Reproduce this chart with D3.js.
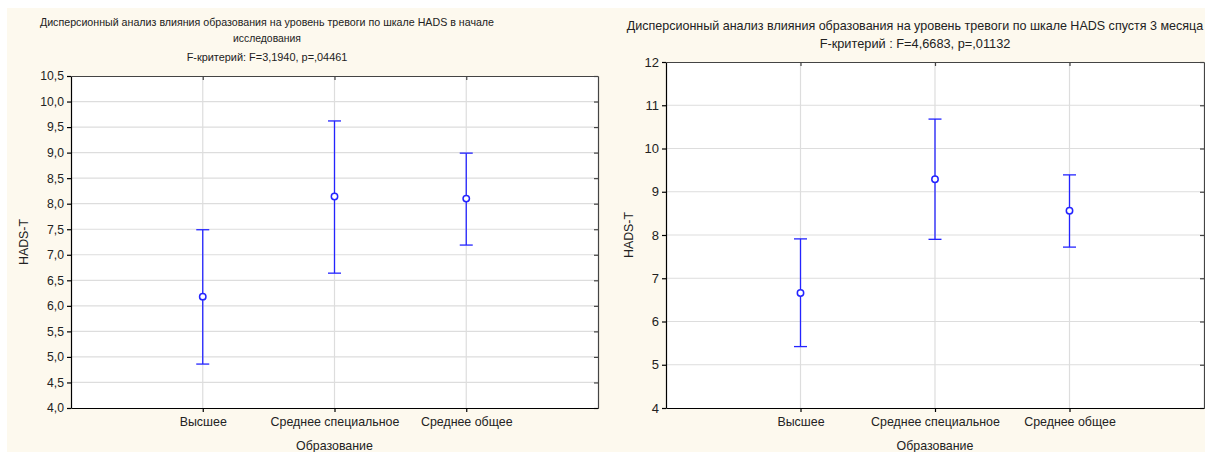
<!DOCTYPE html>
<html>
<head>
<meta charset="utf-8">
<script src="https://cdn.jsdelivr.net/npm/d3@7"></script>
<style>
  html, body { margin: 0; padding: 0; background: #ffffff; }
  svg { display: block; font-family: "Liberation Sans", Arial, sans-serif; }
</style>
</head>
<body>
<svg id="chart" width="1205" height="452"></svg>
<script>
// Education groups on the x axis
const categories = ["Высшее", "Среднее специальное", "Среднее общее"];

// HADS-T anxiety at baseline: group means and 95% CI bounds
const meanStart  = [6.18, 8.14, 8.10];
const lowerStart = [4.86, 6.64, 7.19];
const upperStart = [7.49, 9.62, 8.99];

// HADS-T anxiety after 3 months: group means and 95% CI bounds
const meanAfter  = [6.66, 9.29, 8.56];
const lowerAfter = [5.42, 7.90, 7.72];
const upperAfter = [7.91, 10.68, 9.39];

// Y tick values
const ticksStart = [4.0, 4.5, 5.0, 5.5, 6.0, 6.5, 7.0, 7.5, 8.0, 8.5, 9.0, 9.5, 10.0, 10.5];
const ticksAfter = [4, 5, 6, 7, 8, 9, 10, 11, 12];

// Titles and axis captions
const titleStart = [
  "Дисперсионный анализ влияния образования на уровень тревоги по шкале HADS в начале",
  "исследования",
  "F-критерий: F=3,1940, p=,04461"
];
const titleAfter = [
  "Дисперсионный анализ влияния образования на уровень тревоги по шкале HADS спустя 3 месяца",
  "F-критерий : F=4,6683, p=,01132"
];
const xAxisTitle = "Образование";
const yAxisTitle = "HADS-T";

const svg = d3.select("#chart");

// cream page background behind both panels
svg.append("rect")
  .attr("x", 7).attr("y", 8)
  .attr("width", 1198).attr("height", 444)
  .attr("fill", "#fdf9ee");

const BLUE = "#2424ff";
const GRID = "#dddddd";
const LABEL_SIZE = 12.4;

function drawPanel(cfg) {
  const { left, right, top, bottom } = cfg.plot;
  const g = svg.append("g");

  const x = d3.scalePoint().domain(categories).range([left, right]).padding(1);
  const y = d3.scaleLinear().domain(cfg.yDomain).range([bottom, top]);

  // plot area
  g.append("rect")
    .attr("x", left).attr("y", top)
    .attr("width", right - left).attr("height", bottom - top)
    .attr("fill", "#ffffff");

  // grid lines
  g.append("g").selectAll("line.h")
    .data(cfg.ticks.filter(t => t > cfg.yDomain[0] && t < cfg.yDomain[1]))
    .join("line")
    .attr("x1", left).attr("x2", right)
    .attr("y1", d => y(d)).attr("y2", d => y(d))
    .attr("stroke", GRID).attr("stroke-width", 1.2);
  g.append("g").selectAll("line.v")
    .data(categories)
    .join("line")
    .attr("x1", d => x(d)).attr("x2", d => x(d))
    .attr("y1", top).attr("y2", bottom)
    .attr("stroke", GRID).attr("stroke-width", 1.2);

  // frame: top and right edges with inward ticks
  const axTop = g.append("g").attr("transform", `translate(0,${top})`)
    .call(d3.axisTop(x).tickSize(-4).tickFormat("").tickSizeOuter(0));
  const axRight = g.append("g").attr("transform", `translate(${right},0)`)
    .call(d3.axisRight(y).tickValues(cfg.ticks).tickSize(-4).tickFormat("").tickSizeOuter(0));
  [axTop, axRight].forEach(a => {
    a.selectAll("path, line").attr("stroke", "#444").attr("stroke-width", 1.2);
  });

  // left axis
  const axLeft = g.append("g").attr("transform", `translate(${left},0)`)
    .call(d3.axisLeft(y).tickValues(cfg.ticks).tickSize(4).tickPadding(3)
      .tickSizeOuter(0).tickFormat(cfg.fmt));
  axLeft.selectAll("path, line").attr("stroke", "#000").attr("stroke-width", 1.2);
  axLeft.selectAll("text")
    .attr("font-size", cfg.yTickSize).attr("fill", "#222")
    .attr("font-family", "Liberation Sans, Arial, sans-serif");

  // bottom axis
  const axBottom = g.append("g").attr("transform", `translate(0,${bottom})`)
    .call(d3.axisBottom(x).tickSize(4).tickPadding(5).tickSizeOuter(0));
  axBottom.selectAll("path, line").attr("stroke", "#000").attr("stroke-width", 1.2);
  axBottom.selectAll("text")
    .attr("font-size", LABEL_SIZE).attr("fill", "#222")
    .attr("font-family", "Liberation Sans, Arial, sans-serif");

  // error bars
  const bars = g.append("g").selectAll("g")
    .data(categories.map((c, i) => ({ c, m: cfg.mean[i], lo: cfg.lower[i], hi: cfg.upper[i] })))
    .join("g");
  bars.append("line")
    .attr("x1", d => x(d.c)).attr("x2", d => x(d.c))
    .attr("y1", d => y(d.lo)).attr("y2", d => y(d.hi))
    .attr("stroke", BLUE).attr("stroke-width", 1.3);
  bars.append("line")
    .attr("x1", d => x(d.c) - 6.5).attr("x2", d => x(d.c) + 6.5)
    .attr("y1", d => y(d.hi)).attr("y2", d => y(d.hi))
    .attr("stroke", BLUE).attr("stroke-width", 1.3);
  bars.append("line")
    .attr("x1", d => x(d.c) - 6.5).attr("x2", d => x(d.c) + 6.5)
    .attr("y1", d => y(d.lo)).attr("y2", d => y(d.lo))
    .attr("stroke", BLUE).attr("stroke-width", 1.3);
  bars.append("circle")
    .attr("cx", d => x(d.c)).attr("cy", d => y(d.m))
    .attr("r", 3.2)
    .attr("fill", "#ffffff").attr("stroke", BLUE).attr("stroke-width", 1.5);

  // title lines, each fitted to its measured width
  cfg.title.forEach((t, i) => {
    const el = g.append("text")
      .attr("x", cfg.titleX).attr("y", cfg.titleY[i])
      .attr("text-anchor", "middle")
      .attr("font-size", 12)
      .attr("fill", "#222")
      .text(t);
    const w = el.node().getComputedTextLength();
    el.attr("font-size", 12 * cfg.titleW[i] / w);
  });

  // axis captions
  g.append("text")
    .attr("x", (left + right) / 2).attr("y", 450)
    .attr("text-anchor", "middle")
    .attr("font-size", LABEL_SIZE).attr("fill", "#222")
    .text(xAxisTitle);
  g.append("text")
    .attr("transform", `translate(${cfg.yTitleX},${(top + bottom) / 2}) rotate(-90)`)
    .attr("text-anchor", "middle")
    .attr("font-size", LABEL_SIZE).attr("fill", "#222")
    .text(yAxisTitle);
}

const fmtComma = d => d3.format(".1f")(d).replace(".", ",");

drawPanel({
  plot: { left: 71, right: 598, top: 76, bottom: 408 },
  yDomain: [4, 10.5],
  ticks: ticksStart,
  fmt: fmtComma,
  yTickSize: 12.2,
  mean: meanStart, lower: lowerStart, upper: upperStart,
  title: titleStart,
  titleX: 267,
  titleY: [26, 42, 61],
  titleW: [455, 68, 161],
  yTitleX: 28
});

drawPanel({
  plot: { left: 666, right: 1204, top: 62, bottom: 408 },
  yDomain: [4, 12],
  ticks: ticksAfter,
  fmt: d3.format("d"),
  yTickSize: 13,
  mean: meanAfter, lower: lowerAfter, upper: upperAfter,
  title: titleAfter,
  titleX: 915,
  titleY: [30, 48],
  titleW: [577, 191],
  yTitleX: 633
});
</script>
</body>
</html>
